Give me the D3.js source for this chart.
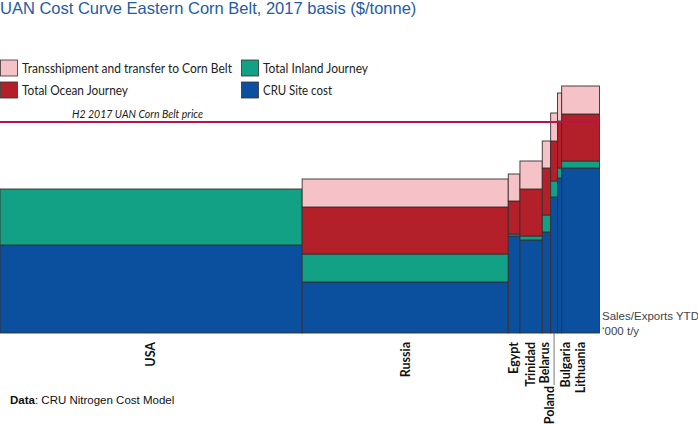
<!DOCTYPE html>
<html>
<head>
<meta charset="utf-8">
<script src="https://cdn.jsdelivr.net/npm/d3@7"></script>
<style>
  body { margin: 0; background: #fff; }
  svg { display: block; }
</style>
</head>
<body>
<svg id="chart" width="698" height="424"></svg>
<script>
// cost curve data, '000 t/y volumes and $/tonne costs
var countries = ["USA", "Russia", "Egypt", "Trinidad", "Belarus", "Poland", "Bulgaria", "Lithuania"];
var volumes   = [3020, 2060, 117, 223, 84, 68, 42, 378];
var siteCost  = [88, 51, 97, 93, 101, 136, 155, 165];
var inland    = [56, 28, 2, 4, 17, 16, 10, 7];
var ocean     = [0, 47, 33, 47, 47, 40, 47, 47];
var transfer  = [0, 28, 27, 28, 27, 28, 28, 28];
var cornBeltPrice = 211;

var seriesNames  = ["CRU Site cost", "Total Inland Journey", "Total Ocean Journey", "Transshipment and transfer to Corn Belt"];
var seriesColors = ["#0b4f9f", "#12a184", "#b3202a", "#f5c3c7"];

var svg = d3.select("#chart");

var data = countries.map(function(c, i) {
  return { name: c, vol: volumes[i], vals: [siteCost[i], inland[i], ocean[i], transfer[i]] };
});
var cum = 0;
data.forEach(function(d) { d.x0 = cum; cum += d.vol; d.x1 = cum; });

var x = d3.scaleLinear().domain([0, cum]).range([0, 599.5]);
var y = d3.scaleLinear().domain([0, 300]).range([333, 33]);

// stacked rectangles
var bars = svg.append("g");
data.forEach(function(d) {
  var base = 0;
  d.vals.forEach(function(v, k) {
    if (v > 0) {
      bars.append("rect")
          .attr("x", x(d.x0))
          .attr("width", x(d.x1) - x(d.x0))
          .attr("y", y(base + v))
          .attr("height", y(base) - y(base + v))
          .attr("fill", seriesColors[k])
          .attr("stroke", "#3b2f2f")
          .attr("stroke-width", 0.9);
    }
    base += v;
  });
});

// price line
svg.append("line")
    .attr("x1", 0)
    .attr("x2", 599.5)
    .attr("y1", y(cornBeltPrice))
    .attr("y2", y(cornBeltPrice))
    .attr("stroke", "#b5154a")
    .attr("stroke-width", 2);

svg.append("text")
    .attr("x", 72)
    .attr("y", y(cornBeltPrice) - 4.5)
    .style("font-family", "Lato, sans-serif")
    .style("font-style", "italic")
    .style("font-size", "11.5px")
    .attr("textLength", 131)
    .attr("lengthAdjust", "spacingAndGlyphs")
    .attr("fill", "#1a1a1a")
    .text("H2 2017 UAN Corn Belt price");

// country labels (a few nudged to avoid overlap)
var nudge = { Belarus: [-2, 0], Poland: [-4, 44], Bulgaria: [6, 0] };
var labels = svg.append("g")
    .style("font-family", "Lato, sans-serif")
    .style("font-weight", "bold")
    .style("font-size", "12.5px");

data.forEach(function(d) {
  var n = nudge[d.name] || [0, 0];
  var cx = (x(d.x0) + x(d.x1)) / 2 + n[0];
  var top = 342 + n[1];
  if (n[1] > 0) {
    svg.append("line")
        .attr("x1", (x(d.x0) + x(d.x1)) / 2)
        .attr("x2", (x(d.x0) + x(d.x1)) / 2)
        .attr("y1", y(0))
        .attr("y2", top - 1)
        .attr("stroke", "#555")
        .attr("stroke-width", 0.8);
  }
  labels.append("text")
      .attr("transform", "translate(" + cx + "," + top + ") rotate(-90)")
      .attr("dy", "0.35em")
      .style("text-anchor", "end")
      .attr("fill", "#111")
      .text(d.name);
});

// x axis caption
var cap = svg.append("text")
    .style("font-family", "Liberation Sans, Arial, sans-serif")
    .style("font-size", "11.5px")
    .attr("fill", "#444");
cap.append("tspan").attr("x", 602).attr("y", 320).text("Sales/Exports YTD");
cap.append("tspan").attr("x", 602).attr("y", 334.5).text("\u2018000 t/y");

// title
svg.append("text")
    .attr("x", 0)
    .attr("y", 14)
    .style("font-family", "Liberation Sans, Arial, sans-serif")
    .style("font-size", "16.5px")
    .attr("fill", "#1f5ca4")
    .text("UAN Cost Curve Eastern Corn Belt, 2017 basis ($/tonne)");

// legend
var legendOrder = [3, 1, 2, 0];
var legendWidths = { 3: 210, 1: 105, 2: 106, 0: 69 };
var legend = svg.append("g")
    .style("font-family", "Lato, sans-serif")
    .style("font-size", "13px");
legendOrder.forEach(function(k, i) {
  var lx = (i % 2) * 241, ly = 60 + Math.floor(i / 2) * 22;
  legend.append("rect")
      .attr("x", lx + 0.5)
      .attr("y", ly)
      .attr("width", 17)
      .attr("height", 16)
      .attr("fill", seriesColors[k])
      .attr("stroke", "#3b2f2f")
      .attr("stroke-width", 0.8);
  legend.append("text")
      .attr("x", lx + 22)
      .attr("y", ly + 13)
      .attr("textLength", legendWidths[k])
      .attr("lengthAdjust", "spacingAndGlyphs")
      .attr("fill", "#222")
      .text(seriesNames[k]);
});

// source
var src = svg.append("text")
    .attr("x", 10)
    .attr("y", 404)
    .style("font-family", "Liberation Sans, Arial, sans-serif")
    .style("font-size", "11.5px")
    .attr("fill", "#111");
src.append("tspan").style("font-weight", "bold").text("Data");
src.append("tspan").text(": CRU Nitrogen Cost Model");
</script>
</body>
</html>
